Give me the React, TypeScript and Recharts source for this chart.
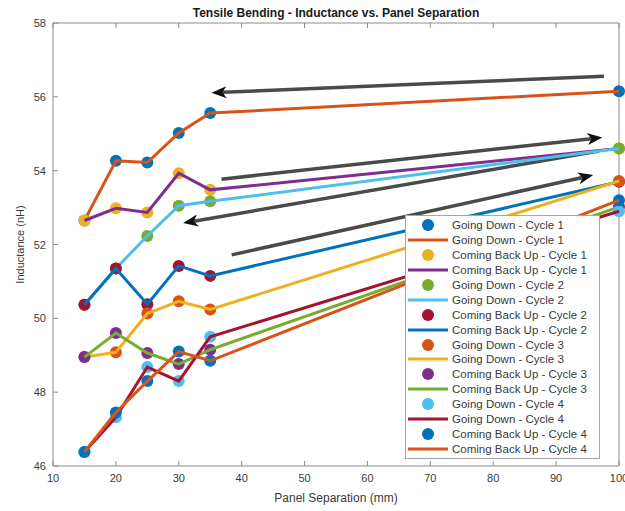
import React from 'react';
import { ComposedChart, Scatter, XAxis, YAxis, Legend, ReferenceLine } from 'recharts';

// Panel separation (mm) at which inductance was measured
const separationMm = [15, 20, 25, 30, 35, 100];

// Inductance (nH) for each sweep
const goingDownCycle1 = [52.65, 54.27, 54.22, 55.02, 55.56, 56.15];
const comingBackUpCycle1 = [52.65, 52.98, 52.87, 53.93, 53.48, 54.6];
const goingDownCycle2 = [50.37, 51.35, 52.23, 53.05, 53.17, 54.6];
const comingBackUpCycle2 = [50.37, 51.35, 50.38, 51.42, 51.15, 53.7];
const goingDownCycle3 = [48.95, 49.08, 50.13, 50.46, 50.24, 53.72];
const comingBackUpCycle3 = [48.95, 49.6, 49.06, 48.76, 49.15, 53.02];
const goingDownCycle4 = [46.38, 47.32, 48.68, 48.3, 49.5, 52.9];
const comingBackUpCycle4 = [46.38, 47.45, 48.3, 49.1, 48.85, 53.2];

const xTicks = [10, 20, 30, 40, 50, 60, 70, 80, 90, 100];
const yTicks = [46, 48, 50, 52, 54, 56, 58];

// Trend arrows (tail -> head) in data coordinates
const arrowTails = [
  { x: 97.6, y: 56.56 },
  { x: 36.8, y: 53.77 },
  { x: 96.8, y: 54.53 },
  { x: 38.4, y: 51.72 },
];
const arrowHeads = [
  { x: 35.2, y: 56.11 },
  { x: 97.35, y: 54.9 },
  { x: 30.68, y: 52.58 },
  { x: 95.9, y: 53.88 },
];

const BLUE = '#0072BD';
const ORANGE = '#D95319';
const YELLOW = '#EDB120';
const PURPLE = '#7E2F8E';
const GREEN = '#77AC30';
const LIGHT_BLUE = '#4DBEEE';
const DARK_RED = '#A2142F';

const AXIS = '#8c8c8c';
const TEXT = '#3a3a3a';
const FONT = '"Liberation Sans", Arial, Helvetica, sans-serif';

const series = [
  { key: 'gd1', name: 'Going Down - Cycle 1', values: goingDownCycle1, marker: BLUE, line: ORANGE },
  { key: 'cb1', name: 'Coming Back Up - Cycle 1', values: comingBackUpCycle1, marker: YELLOW, line: PURPLE },
  { key: 'gd2', name: 'Going Down - Cycle 2', values: goingDownCycle2, marker: GREEN, line: LIGHT_BLUE },
  { key: 'cb2', name: 'Coming Back Up - Cycle 2', values: comingBackUpCycle2, marker: DARK_RED, line: BLUE },
  { key: 'gd3', name: 'Going Down - Cycle 3', values: goingDownCycle3, marker: ORANGE, line: YELLOW },
  { key: 'cb3', name: 'Coming Back Up - Cycle 3', values: comingBackUpCycle3, marker: PURPLE, line: GREEN },
  { key: 'gd4', name: 'Going Down - Cycle 4', values: goingDownCycle4, marker: LIGHT_BLUE, line: DARK_RED },
  { key: 'cb4', name: 'Coming Back Up - Cycle 4', values: comingBackUpCycle4, marker: BLUE, line: ORANGE },
];

const data = separationMm.map((x, i) => {
  const row: Record<string, number> = { x };
  series.forEach((s) => {
    row[s.key] = s.values[i];
  });
  return row;
});

const BottomTick = (props: any) => {
  const { x, y, payload } = props;
  return (
    <g>
      <line x1={x} y1={y} x2={x} y2={y - 5} stroke={AXIS} strokeWidth={1} />
      <text x={x} y={y + 16} textAnchor="middle" fontSize={11} fill={TEXT} fontFamily={FONT}>
        {payload.value}
      </text>
    </g>
  );
};

const TopTick = (props: any) => {
  const { x, y } = props;
  return <line x1={x} y1={y} x2={x} y2={y + 5} stroke={AXIS} strokeWidth={1} />;
};

const LeftTick = (props: any) => {
  const { x, y, payload } = props;
  return (
    <g>
      <line x1={x} y1={y} x2={x + 5} y2={y} stroke={AXIS} strokeWidth={1} />
      <text x={x - 7} y={y + 4} textAnchor="end" fontSize={11} fill={TEXT} fontFamily={FONT}>
        {payload.value}
      </text>
    </g>
  );
};

const RightTick = (props: any) => {
  const { x, y } = props;
  return <line x1={x} y1={y} x2={x - 5} y2={y} stroke={AXIS} strokeWidth={1} />;
};

const ArrowShape = (props: any) => {
  const { x1, y1, x2, y2 } = props;
  const dx = x2 - x1;
  const dy = y2 - y1;
  const len = Math.hypot(dx, dy) || 1;
  const ux = dx / len;
  const uy = dy / len;
  const headLen = 15;
  const headW = 6;
  const bx = x2 - ux * headLen;
  const by = y2 - uy * headLen;
  const px = -uy;
  const py = ux;
  const nx = bx + ux * 4;
  const ny = by + uy * 4;
  return (
    <g>
      <line x1={x1} y1={y1} x2={nx} y2={ny} stroke="#4a4a4a" strokeWidth={3.5} />
      <polygon
        points={`${x2},${y2} ${bx + px * headW},${by + py * headW} ${nx},${ny} ${bx - px * headW},${by - py * headW}`}
        fill="#111"
      />
    </g>
  );
};

const makeMarker = (color: string) => (p: any) => <circle cx={p.cx} cy={p.cy} r={6} fill={color} />;
const NoMarker = () => <g />;

const legendEntries = series.flatMap((s) => [
  { kind: 'marker', color: s.marker, name: s.name },
  { kind: 'line', color: s.line, name: s.name },
]);

const LegendBox = () => (
  <div
    style={{
      width: 193,
      border: '1px solid #a6a6a6',
      background: '#fff',
      padding: '2px 0 2px 0',
      fontFamily: FONT,
      fontSize: 11.5,
      color: TEXT,
    }}
  >
    {legendEntries.map((e, i) => (
      <div key={i} style={{ display: 'flex', alignItems: 'center', height: 14.9, whiteSpace: 'nowrap' }}>
        <svg width={46} height={14} style={{ flex: 'none' }}>
          {e.kind === 'marker' ? (
            <circle cx={22} cy={7} r={6} fill={e.color} />
          ) : (
            <line x1={2} y1={7} x2={42} y2={7} stroke={e.color} strokeWidth={3} />
          )}
        </svg>
        <span>{e.name}</span>
      </div>
    ))}
  </div>
);

export default function App() {
  return (
    <div style={{ position: 'absolute', left: 0, top: 0, width: 625, height: 511, background: '#fff' }}>
      <ComposedChart
        width={625}
        height={511}
        data={data}
        margin={{ top: 22, right: 5, bottom: 0, left: 8 }}
        style={{ fontFamily: FONT }}
      >
        <XAxis
          dataKey="x"
          type="number"
          domain={[10, 100]}
          ticks={xTicks}
          height={45}
          stroke={AXIS}
          tickLine={false}
          tickSize={0}
          tickMargin={0}
          tick={<BottomTick />}
          interval={0}
          label={{ value: 'Panel Separation (mm)', position: 'insideBottom', offset: 9, fontSize: 12, fill: TEXT }}
        />
        <XAxis
          xAxisId="top"
          dataKey="x"
          type="number"
          orientation="top"
          domain={[10, 100]}
          ticks={xTicks}
          height={1}
          stroke={AXIS}
          tickLine={false}
          tickSize={0}
          tickMargin={0}
          tick={<TopTick />}
          interval={0}
          label={{
            value: 'Tensile Bending - Inductance vs. Panel Separation',
            position: 'top',
            offset: 5,
            fontSize: 12,
            fontWeight: 'bold',
            fill: '#1a1a1a',
          }}
        />
        <YAxis
          type="number"
          domain={[46, 58]}
          ticks={yTicks}
          width={45}
          stroke={AXIS}
          tickLine={false}
          tickSize={0}
          tickMargin={0}
          tick={<LeftTick />}
          interval={0}
          label={{
            value: 'Inductance (nH)',
            angle: -90,
            position: 'insideLeft',
            offset: 12,
            fontSize: 11,
            fill: TEXT,
            style: { textAnchor: 'middle' },
          }}
        />
        <YAxis
          yAxisId="right"
          type="number"
          orientation="right"
          domain={[46, 58]}
          ticks={yTicks}
          width={1}
          stroke={AXIS}
          tickLine={false}
          tickSize={0}
          tickMargin={0}
          tick={<RightTick />}
          interval={0}
        />
        {series.flatMap((s) => [
          <Scatter
            key={`${s.key}-markers`}
            dataKey={s.key}
            name={s.name}
            fill={s.marker}
            shape={makeMarker(s.marker)}
            legendType="none"
            isAnimationActive={false}
          />,
          <Scatter
            key={`${s.key}-line`}
            dataKey={s.key}
            name={s.name}
            fill={s.line}
            line={{ stroke: s.line, strokeWidth: 3 }}
            lineType="joint"
            shape={NoMarker}
            legendType="none"
            isAnimationActive={false}
          />,
        ])}
        {arrowTails.map((t, i) => (
          <ReferenceLine
            key={`arrow-${i}`}
            segment={[t, arrowHeads[i]]}
            shape={<ArrowShape />}
            ifOverflow="visible"
          />
        ))}
        <Legend
          layout="vertical"
          align="center"
          verticalAlign="middle"
          wrapperStyle={{ left: 405, top: 215, width: 195 }}
          content={() => <LegendBox />}
        />
      </ComposedChart>
    </div>
  );
}
